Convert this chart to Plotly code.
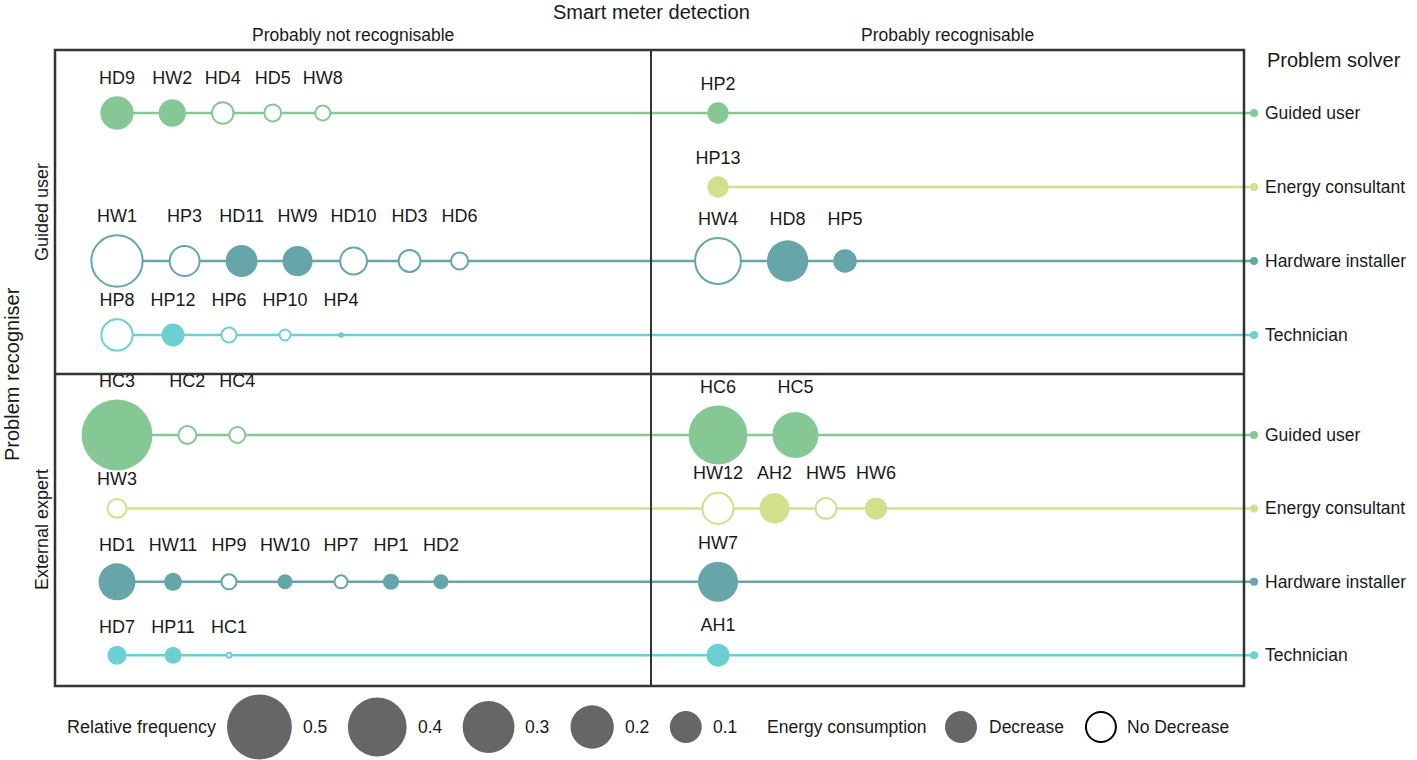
import plotly.graph_objects as go

# ---------------- data ----------------
recognisers = ["Guided user", "External expert"]
solvers = ["Guided user", "Energy consultant", "Hardware installer", "Technician"]
detections = ["Probably not recognisable", "Probably recognisable"]

case_id = ["HD9", "HW2", "HD4", "HD5", "HW8", "HP2",
           "HP13",
           "HW1", "HP3", "HD11", "HW9", "HD10", "HD3", "HD6", "HW4", "HD8", "HP5",
           "HP8", "HP12", "HP6", "HP10", "HP4",
           "HC3", "HC2", "HC4", "HC6", "HC5",
           "HW3", "HW12", "AH2", "HW5", "HW6",
           "HD1", "HW11", "HP9", "HW10", "HP7", "HP1", "HD2", "HW7",
           "HD7", "HP11", "HC1", "AH1"]
case_recogniser = ["Guided user"] * 22 + ["External expert"] * 22
case_solver = (["Guided user"] * 6 + ["Energy consultant"] * 1 + ["Hardware installer"] * 10
               + ["Technician"] * 5 + ["Guided user"] * 5 + ["Energy consultant"] * 5
               + ["Hardware installer"] * 8 + ["Technician"] * 4)
case_detection = (["Probably not recognisable"] * 5 + ["Probably recognisable"] * 2
                  + ["Probably not recognisable"] * 7 + ["Probably recognisable"] * 3
                  + ["Probably not recognisable"] * 8 + ["Probably recognisable"] * 2
                  + ["Probably not recognisable"] * 1 + ["Probably recognisable"] * 4
                  + ["Probably not recognisable"] * 7 + ["Probably recognisable"] * 1
                  + ["Probably not recognisable"] * 3 + ["Probably recognisable"] * 1)
case_freq = [0.11, 0.07, 0.05, 0.03, 0.024, 0.04,
             0.04,
             0.32, 0.10, 0.10, 0.087, 0.08, 0.052, 0.031, 0.25, 0.18, 0.05,
             0.11, 0.047, 0.024, 0.013, 0.002,
             0.61, 0.034, 0.027, 0.40, 0.23,
             0.038, 0.108, 0.087, 0.047, 0.043,
             0.14, 0.027, 0.024, 0.018, 0.018, 0.021, 0.018, 0.167,
             0.031, 0.024, 0.003, 0.047]
case_decrease = [True, True, False, False, False, True,
                 True,
                 False, False, True, True, False, False, False, False, True, True,
                 False, True, False, False, True,
                 True, False, False, True, True,
                 False, False, True, False, True,
                 True, True, False, True, False, True, True, True,
                 True, True, False, True]

legend_freqs = [0.5, 0.4, 0.3, 0.2, 0.1]
legend_energy = ["Decrease", "No Decrease"]

# ---------------- styles / layout ----------------
W, H = 1417, 760
FONT = "Liberation Sans, Arial, sans-serif"
TXT = "#1a1a1a"
solver_colors = {"Guided user": "#86C895", "Energy consultant": "#D3DF8D",
                 "Hardware installer": "#66A6A8", "Technician": "#6CD0D2"}
X0, XMID, X1 = 55, 651, 1244
Y0, YMID, Y1 = 50, 374, 686
row_first = [113, 435]
row_step = [74, 73.4]
col_start = [117, 718]
END_X = 1254
LEGEND_GREY = "#666666"


def diam(v):
    return 88 * v ** 0.44


def text_w(s):
    return 12 * len(s)


def row_y(rec, sol):
    h = recognisers.index(rec)
    return row_first[h] + row_step[h] * solvers.index(sol)


fig = go.Figure()

# compute positions per cell
cx, cy, cd, label_y = {}, {}, {}, {}
for rec in recognisers:
    for sol in solvers:
        for det in detections:
            idx = [i for i in range(len(case_id)) if case_recogniser[i] == rec
                   and case_solver[i] == sol and case_detection[i] == det]
            if not idx:
                continue
            x = col_start[detections.index(det)]
            prev = None
            maxd = max(diam(case_freq[i]) for i in idx)
            for i in idx:
                d = diam(case_freq[i])
                if prev is not None:
                    pd = diam(case_freq[prev])
                    step = max(pd / 2 + d / 2 + 25,
                               (text_w(case_id[prev]) + text_w(case_id[i])) / 2 + 14)
                    x = cx[prev] + step
                cx[i] = x
                cy[i] = row_y(rec, sol)
                cd[i] = d
                label_y[i] = cy[i] - maxd / 2 - 17
                prev = i

# row lines
for rec in recognisers:
    for sol in solvers:
        idx = [i for i in cx if case_recogniser[i] == rec and case_solver[i] == sol]
        if not idx:
            continue
        y = row_y(rec, sol)
        xs = min(cx[i] for i in idx)
        fig.add_trace(go.Scatter(x=[xs, END_X], y=[y, y], mode="lines",
                                 line=dict(color=solver_colors[sol], width=2.5),
                                 hoverinfo="skip", showlegend=False))
        fig.add_trace(go.Scatter(x=[END_X], y=[y], mode="markers",
                                 marker=dict(color=solver_colors[sol], size=8, opacity=1),
                                 hoverinfo="skip", showlegend=False))

# circles
order = sorted(cx.keys())
fig.add_trace(go.Scatter(
    x=[cx[i] for i in order], y=[cy[i] for i in order], mode="markers",
    marker=dict(
        size=[cd[i] if case_decrease[i] else cd[i] - 2 for i in order],
        color=[solver_colors[case_solver[i]] if case_decrease[i] else "white" for i in order],
        line=dict(color=[solver_colors[case_solver[i]] for i in order],
                  width=[0 if case_decrease[i] else 2 for i in order]),
        opacity=1),
    text=[case_id[i] for i in order], hoverinfo="text", showlegend=False))

# case labels
fig.add_trace(go.Scatter(
    x=[cx[i] for i in order], y=[label_y[i] for i in order], mode="text",
    text=[case_id[i] for i in order], textposition="middle center",
    textfont=dict(family=FONT, size=18, color=TXT), hoverinfo="skip", showlegend=False))

# frame
shapes = [
    dict(type="rect", x0=X0, x1=X1, y0=Y0, y1=Y1, line=dict(color="#333333", width=2.5)),
    dict(type="line", x0=XMID, x1=XMID, y0=Y0, y1=Y1, line=dict(color="#333333", width=2)),
    dict(type="line", x0=X0, x1=X1, y0=YMID, y1=YMID, line=dict(color="#333333", width=2.5)),
]

ann = []


def add_text(x, y, s, size=18, xanchor="center", angle=0):
    ann.append(dict(x=x, y=y, text=s, showarrow=False, xanchor=xanchor, yanchor="middle",
                    textangle=angle, font=dict(family=FONT, size=size, color=TXT)))


add_text(XMID, 12, "Smart meter detection", 20)
add_text((X0 + XMID) / 2, 35, detections[0], 17.5)
add_text((XMID + X1) / 2, 35, detections[1], 17.5)
add_text(1265, 60, "Problem solver", 20, "left")
add_text(12, (Y0 + Y1) / 2 + 6, "Problem recogniser", 20, angle=-90)
add_text(42, (Y0 + YMID) / 2, recognisers[0], 18, angle=-90)
add_text(42, (YMID + Y1) / 2, recognisers[1], 18, angle=-90)
for rec in recognisers:
    for sol in solvers:
        add_text(1263, row_y(rec, sol), sol, 17.5, "left")

# legend
LY = 727
add_text(218, LY, "Relative frequency", 18, "right")
cur = 227
lx, ls = [], []
for v in legend_freqs:
    d = diam(v)
    lx.append(cur + d / 2)
    ls.append(d)
    add_text(cur + d + 9, LY, str(v), 17.5, "left")
    cur = cur + d + 9 + 27 + 20
fig.add_trace(go.Scatter(x=lx, y=[LY] * len(lx), mode="markers",
                         marker=dict(size=ls, color=LEGEND_GREY, line=dict(width=0), opacity=1),
                         hoverinfo="skip", showlegend=False))
cur = 765
add_text(cur, LY, "Energy consumption", 17.5, "left")
cur += 168 + 12
d = diam(0.1)
ex = [cur + d / 2]
add_text(cur + d + 10, LY, legend_energy[0], 17.5, "left")
cur = cur + d + 10 + 80 + 18
ex.append(cur + d / 2)
add_text(cur + d + 8, LY, legend_energy[1], 17.5, "left")
fig.add_trace(go.Scatter(x=ex, y=[LY, LY], mode="markers",
                         marker=dict(size=[d, d - 2], color=[LEGEND_GREY, "white"],
                                     line=dict(color="black", width=[0, 2]), opacity=1),
                         hoverinfo="skip", showlegend=False))

fig.update_layout(
    width=W, height=H, margin=dict(l=0, r=0, t=0, b=0),
    paper_bgcolor="white", plot_bgcolor="white",
    xaxis=dict(range=[0, W], visible=False, fixedrange=True),
    yaxis=dict(range=[H, 0], visible=False, fixedrange=True),
    shapes=shapes, annotations=ann, showlegend=False,
)

fig.write_html("out.html", config={"displayModeBar": False},
               post_script="document.body.style.margin='0';document.body.style.overflow='hidden';")
